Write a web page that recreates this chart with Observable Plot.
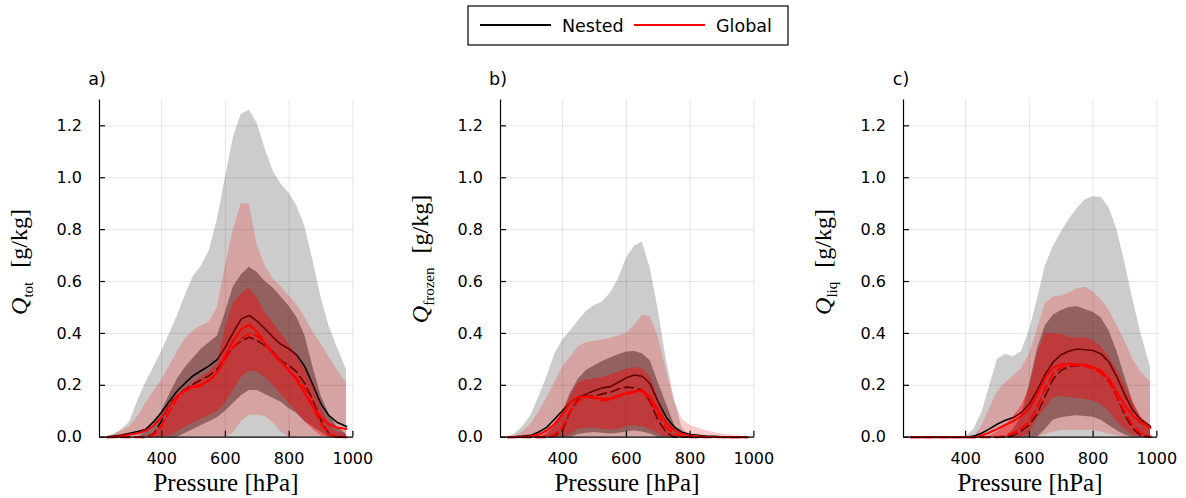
<!DOCTYPE html>
<html><head><meta charset="utf-8">
<script src="https://cdn.jsdelivr.net/npm/d3@7"></script>
<script src="https://cdn.jsdelivr.net/npm/@observablehq/plot@0.6"></script>
<style>
html,body{margin:0;padding:0;background:#fff;}
#root{position:relative;width:1186px;height:498px;overflow:hidden;font-family:"DejaVu Sans",sans-serif;}
.panel{position:absolute;top:0;}
#legend{position:absolute;left:467px;top:5px;}
</style></head><body><div id="root"></div>
<script>
// Pressure levels [hPa]
const P = [228,250,275,300,325,350,375,400,425,450,475,500,525,550,575,600,625,650,675,700,725,750,775,800,825,850,875,900,925,950,980];
const xTicks = [400,600,800,1000];
const yTicks = [0,0.2,0.4,0.6,0.8,1.0,1.2];
const panelTitles = ["a)","b)","c)"];
const panelSubs = ["tot","frozen","liq"];
const legendNames = ["Nested","Global"];

// Panel a: Q_tot
const aNOutHi = [0,0.01,0.03,0.06,0.14,0.21,0.27,0.33,0.40,0.47,0.55,0.62,0.66,0.72,0.84,1.0,1.155,1.245,1.26,1.21,1.11,1.025,0.975,0.94,0.89,0.81,0.68,0.54,0.43,0.35,0.26];
const aNOutLo = [0,0,0,0,0,0,0,0,0,0,0,0,0,0,0,0,0,0,0,0,0,0,0,0,0,0,0,0,0,0,0];
const aGOutHi = [0,0.01,0.025,0.04,0.08,0.13,0.175,0.22,0.275,0.33,0.38,0.41,0.43,0.445,0.5,0.66,0.8,0.9,0.9,0.74,0.66,0.61,0.58,0.545,0.51,0.46,0.405,0.36,0.31,0.26,0.21];
const aGOutLo = [0,0,0,0,0,0,0,0,0,0,0,0,0,0,0,0,0.015,0.06,0.085,0.085,0.08,0.055,0.02,0,0,0,0,0,0,0,0];
const aNInHi = [0,0,0,0,0,0.02,0.05,0.10,0.165,0.225,0.27,0.305,0.34,0.365,0.39,0.48,0.58,0.625,0.655,0.635,0.6,0.575,0.54,0.505,0.46,0.39,0.27,0.16,0.09,0.04,0.01];
const aNInLo = [0,0,0,0,0,0,0,0,0,0,0.015,0.03,0.045,0.06,0.075,0.1,0.13,0.16,0.18,0.18,0.165,0.15,0.135,0.11,0.09,0.06,0.04,0.02,0,0,0];
const aGInHi = [0,0,0,0,0,0,0.015,0.05,0.11,0.155,0.185,0.21,0.232,0.252,0.285,0.42,0.515,0.552,0.575,0.535,0.48,0.44,0.40,0.355,0.315,0.26,0.2,0.115,0.05,0.02,0.01];
const aGInLo = [0,0,0,0,0,0,0,0,0.005,0.02,0.04,0.055,0.07,0.085,0.1,0.13,0.18,0.23,0.255,0.25,0.23,0.2,0.165,0.13,0.095,0.06,0.03,0.005,0,0,0];
const aNMean = [0.002,0.004,0.008,0.015,0.022,0.03,0.06,0.096,0.14,0.18,0.21,0.238,0.257,0.276,0.30,0.347,0.405,0.456,0.469,0.447,0.417,0.385,0.357,0.34,0.315,0.27,0.2,0.128,0.083,0.058,0.041];
const aNMed = [0,0,0,0,0,0,0.013,0.064,0.128,0.16,0.186,0.205,0.222,0.238,0.263,0.308,0.347,0.372,0.385,0.372,0.353,0.328,0.295,0.276,0.25,0.205,0.141,0.064,0.013,0,0];
const aGMean = [0,0.002,0.005,0.01,0.015,0.025,0.045,0.077,0.122,0.16,0.186,0.195,0.203,0.22,0.25,0.315,0.373,0.417,0.434,0.405,0.36,0.32,0.29,0.257,0.218,0.167,0.116,0.077,0.051,0.037,0.032];
const aGMed = [0,0,0,0,0,0,0.01,0.045,0.10,0.154,0.182,0.19,0.2,0.22,0.25,0.302,0.347,0.38,0.40,0.39,0.36,0.328,0.29,0.257,0.225,0.186,0.116,0.051,0.013,0,0];

// Panel b: Q_frozen
const bNOutHi = [0,0.013,0.04,0.083,0.154,0.23,0.32,0.375,0.41,0.45,0.485,0.508,0.522,0.555,0.61,0.69,0.735,0.752,0.65,0.49,0.30,0.15,0.035,0.006,0,0,0,0,0,0,0];
const bNOutLo = [0,0,0,0,0,0,0,0,0,0,0,0,0,0,0,0,0,0,0,0,0,0,0,0,0,0,0,0,0,0,0];
const bGOutHi = [0,0.005,0.02,0.05,0.095,0.15,0.21,0.27,0.31,0.35,0.365,0.37,0.375,0.38,0.39,0.40,0.43,0.47,0.465,0.385,0.26,0.14,0.07,0.045,0.035,0.025,0.018,0.012,0.008,0.005,0.003];
const bGOutLo = [0,0,0,0,0,0,0,0,0,0,0,0,0,0,0,0,0,0,0,0,0,0,0,0,0,0,0,0,0,0,0];
const bNInHi = [0,0,0,0,0,0.01,0.04,0.095,0.17,0.225,0.258,0.275,0.292,0.305,0.318,0.328,0.33,0.322,0.295,0.21,0.13,0.05,0.01,0,0,0,0,0,0,0,0];
const bNInLo = [0,0,0,0,0,0,0,0,0,0.01,0.015,0.018,0.015,0.012,0.015,0.02,0.025,0.02,0.012,0,0,0,0,0,0,0,0,0,0,0,0];
const bGInHi = [0,0,0,0,0.005,0.02,0.06,0.09,0.16,0.21,0.22,0.225,0.23,0.24,0.25,0.262,0.268,0.265,0.235,0.15,0.06,0.015,0.003,0,0,0,0,0,0,0,0];
const bGInLo = [0,0,0,0,0,0,0,0,0.01,0.03,0.035,0.035,0.03,0.028,0.03,0.04,0.045,0.04,0.03,0.012,0,0,0,0,0,0,0,0,0,0,0];
const bNMean = [0,0.002,0.004,0.007,0.02,0.038,0.07,0.103,0.135,0.154,0.167,0.18,0.19,0.195,0.212,0.229,0.24,0.235,0.205,0.135,0.077,0.039,0.019,0.01,0.007,0.004,0.003,0.002,0.001,0,0];
const bNMed = [0,0,0,0,0,0,0.005,0.026,0.103,0.148,0.16,0.158,0.167,0.173,0.186,0.193,0.19,0.182,0.135,0.064,0.019,0,0,0,0,0,0,0,0,0,0];
const bGMean = [0,0.001,0.002,0.004,0.01,0.026,0.05,0.09,0.135,0.154,0.158,0.154,0.148,0.148,0.16,0.17,0.176,0.182,0.154,0.103,0.058,0.026,0.013,0.007,0.004,0.002,0.001,0.001,0,0,0];
const bGMed = [0,0,0,0,0,0,0.01,0.039,0.103,0.141,0.154,0.15,0.141,0.145,0.158,0.167,0.173,0.177,0.141,0.083,0.039,0.013,0.003,0,0,0,0,0,0,0,0];

// Panel c: Q_liq
const cNOutHi = [0,0,0,0,0,0,0,0,0.03,0.09,0.195,0.30,0.32,0.31,0.33,0.41,0.53,0.66,0.735,0.79,0.84,0.88,0.915,0.927,0.925,0.885,0.80,0.67,0.53,0.40,0.27];
const cNOutLo = [0,0,0,0,0,0,0,0,0,0,0,0,0,0,0,0,0,0,0,0,0,0,0,0,0,0,0,0,0,0,0];
const cGOutHi = [0,0,0,0,0,0,0,0,0,0.04,0.11,0.175,0.21,0.235,0.265,0.32,0.415,0.515,0.54,0.545,0.555,0.572,0.578,0.56,0.53,0.49,0.43,0.37,0.30,0.25,0.215];
const cGOutLo = [0,0,0,0,0,0,0,0,0,0,0,0,0,0,0,0,0,0.01,0.02,0.025,0.027,0.027,0.027,0.025,0.02,0.012,0.005,0,0,0,0];
const cNInHi = [0,0,0,0,0,0,0,0,0,0,0,0,0,0.03,0.08,0.2,0.34,0.43,0.47,0.488,0.5,0.504,0.492,0.482,0.46,0.41,0.33,0.23,0.135,0.07,0.03];
const cNInLo = [0,0,0,0,0,0,0,0,0,0,0,0,0,0,0,0,0,0.03,0.065,0.075,0.08,0.083,0.08,0.077,0.065,0.045,0.025,0.008,0,0,0];
const cGInHi = [0,0,0,0,0,0,0,0,0,0,0.005,0.02,0.045,0.08,0.12,0.19,0.32,0.4,0.4,0.398,0.385,0.38,0.385,0.372,0.35,0.31,0.26,0.2,0.135,0.08,0.045];
const cGInLo = [0,0,0,0,0,0,0,0,0,0,0,0,0,0,0,0.015,0.07,0.11,0.15,0.158,0.152,0.15,0.145,0.14,0.125,0.1,0.06,0.03,0.008,0,0];
const cNMean = [0,0,0,0,0,0,0,0,0.004,0.015,0.032,0.051,0.065,0.076,0.095,0.128,0.182,0.243,0.29,0.318,0.332,0.34,0.337,0.334,0.321,0.289,0.231,0.161,0.103,0.068,0.042];
const cNMed = [0,0,0,0,0,0,0,0,0,0,0,0,0,0.007,0.024,0.048,0.09,0.16,0.225,0.258,0.272,0.276,0.276,0.27,0.25,0.218,0.154,0.083,0.032,0.006,0];
const cGMean = [0,0,0,0,0,0,0,0,0,0.006,0.018,0.032,0.048,0.062,0.082,0.11,0.165,0.23,0.268,0.28,0.283,0.28,0.28,0.27,0.257,0.225,0.173,0.122,0.083,0.056,0.036];
const cGMed = [0,0,0,0,0,0,0,0,0,0,0,0,0.005,0.016,0.035,0.06,0.115,0.19,0.245,0.27,0.278,0.276,0.274,0.263,0.247,0.212,0.154,0.096,0.045,0.015,0.003];

const panels = [
  {left: -1.2, labelY: 262, s: [aNOutLo,aNOutHi,aNInLo,aNInHi,aGOutLo,aGOutHi,aGInLo,aGInHi,aNMean,aNMed,aGMean,aGMed]},
  {left: 400.0, labelY: 259, s: [bNOutLo,bNOutHi,bNInLo,bNInHi,bGOutLo,bGOutHi,bGInLo,bGInHi,bNMean,bNMed,bGMean,bGMed]},
  {left: 802.7, labelY: 262, s: [cNOutLo,cNOutHi,cNInLo,cNInHi,cGOutLo,cGOutHi,cGInLo,cGInHi,cNMean,cNMed,cGMean,cGMed]}
];
const keys = ["nOutLo","nOutHi","nInLo","nInHi","gOutLo","gOutHi","gInLo","gInHi","nMean","nMed","gMean","gMed"];

const root = document.getElementById("root");
const mL = 100, mR = 21, frameW = 254, mT = 99.4, mB = 61.3, H = 498;
const frameH = H - mT - mB;

panels.forEach((cfg, k) => {
  const rows = P.map((p, i) => {
    const r = {p};
    keys.forEach((key, j) => r[key] = cfg.s[j][i]);
    return r;
  });
  const plot = Plot.plot({
    width: mL + frameW + mR, height: H,
    marginLeft: mL, marginRight: mR, marginTop: mT, marginBottom: mB,
    style: {fontFamily: "DejaVu Sans", fontSize: "16px", background: "transparent", overflow: "visible"},
    x: {domain: [205, 1002]},
    y: {domain: [0, 1.3]},
    marks: [
      Plot.gridX({ticks: xTicks, stroke: "black", strokeOpacity: 0.1, strokeWidth: 1}),
      Plot.gridY({ticks: yTicks, stroke: "black", strokeOpacity: 0.1, strokeWidth: 1}),
      Plot.areaY(rows, {x: "p", y1: "nOutLo", y2: "nOutHi", fill: "black", fillOpacity: 0.2}),
      Plot.areaY(rows, {x: "p", y1: "nInLo", y2: "nInHi", fill: "black", fillOpacity: 0.4}),
      Plot.areaY(rows, {x: "p", y1: "gOutLo", y2: "gOutHi", fill: "red", fillOpacity: 0.2}),
      Plot.lineY(rows, {x: "p", y: "nMean", stroke: "black", strokeWidth: 1.6}),
      Plot.lineY(rows, {x: "p", y: "nMed", stroke: "black", strokeWidth: 1.6, strokeDasharray: "9,5"}),
      Plot.areaY(rows, {x: "p", y1: "gInLo", y2: "gInHi", fill: "red", fillOpacity: 0.4}),
      Plot.lineY(rows, {x: "p", y: "gMean", stroke: "#ff0000", strokeWidth: 2}),
      Plot.lineY(rows, {x: "p", y: "gMed", stroke: "#ff0000", strokeWidth: 2, strokeDasharray: "9,5"}),
      Plot.ruleX([205], {stroke: "black", strokeWidth: 1.2}),
      Plot.ruleY([0], {stroke: "black", strokeWidth: 1.2}),
      Plot.ruleX(xTicks, {stroke: "black", strokeWidth: 1.2, insetTop: frameH - 6}),
      Plot.ruleY(yTicks, {stroke: "black", strokeWidth: 1.2, insetRight: frameW - 6}),
      Plot.axisX({ticks: xTicks, tickSize: 0, tickPadding: 15, tickFormat: d => String(d), label: null}),
      Plot.axisY({ticks: yTicks, tickSize: 0, tickPadding: 17.5, tickFormat: d => d.toFixed(1), label: null})
    ]
  });
  plot.classList.add("panel");
  plot.style.left = cfg.left + "px";
  const svg = d3.select(plot);
  svg.append("text").attr("x", mL - 2).attr("y", 85).attr("font-size", 17.5).attr("font-family", "DejaVu Sans").text(panelTitles[k]);
  const yl = svg.append("text")
    .attr("transform", `translate(${mL - 72},${cfg.labelY}) rotate(-90)`)
    .attr("text-anchor", "middle")
    .attr("font-family", "Liberation Serif, serif")
    .attr("font-size", 24);
  yl.append("tspan").attr("font-style", "italic").text("Q");
  yl.append("tspan").attr("font-size", 15).attr("dy", 6).text(panelSubs[k]);
  yl.append("tspan").attr("dy", -6).attr("dx", 14).text("[g/kg]");
  svg.append("text").attr("x", mL + frameW / 2).attr("y", 491)
    .attr("text-anchor", "middle").attr("font-family", "Liberation Serif, serif")
    .attr("font-size", 25).text("Pressure [hPa]");
  root.appendChild(plot);
});

// Legend
const leg = d3.select(root).append("svg").attr("id", "legend").attr("width", 323).attr("height", 42)
  .attr("font-family", "DejaVu Sans");
leg.append("rect").attr("x", 1).attr("y", 1).attr("width", 320).attr("height", 39)
  .attr("fill", "white").attr("stroke", "black").attr("stroke-width", 1.2);
const legColors = ["black", "#ff0000"];
const legX = [13, 167];
legendNames.forEach((name, i) => {
  leg.append("line").attr("x1", legX[i]).attr("x2", legX[i] + 71).attr("y1", 20).attr("y2", 20)
    .attr("stroke", legColors[i]).attr("stroke-width", 2);
  leg.append("text").attr("x", legX[i] + 82).attr("y", 27.3).attr("font-size", 17.5).text(name);
});
</script></body></html>
